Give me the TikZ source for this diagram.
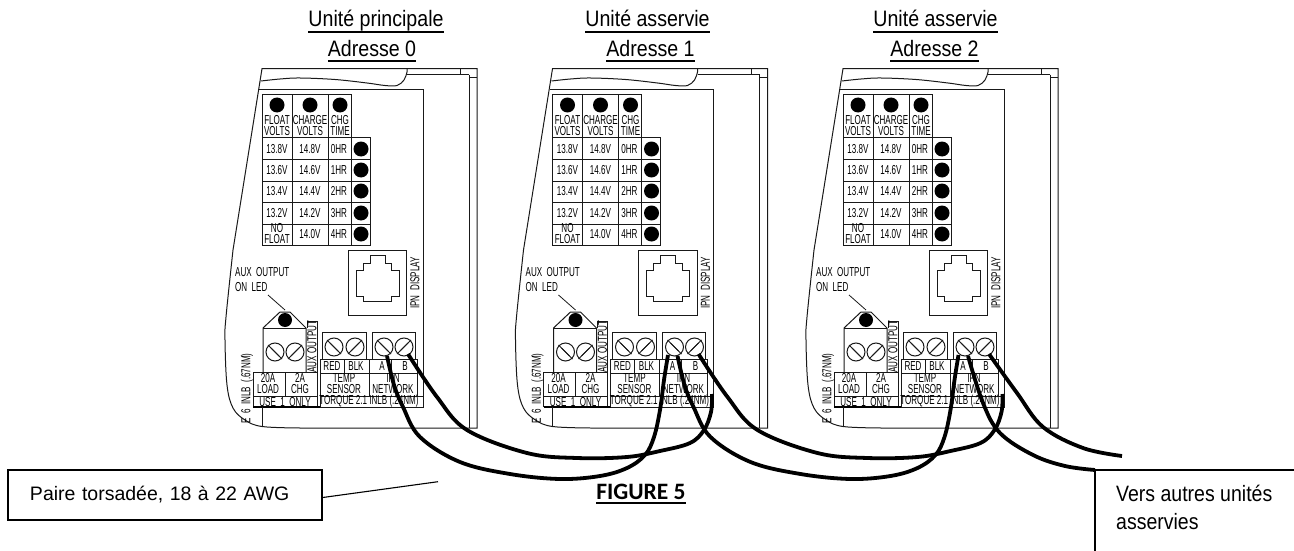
\documentclass[tikz,border=0pt]{standalone}
\usepackage{fontspec}
\setmainfont{Liberation Sans}
\newfontfamily\figfont{Carlito}
\newcommand{\ultext}[1]{\setbox0=\hbox{#1}\rlap{\rule[-5.5pt]{\wd0}{1.6pt}}\box0}
\newcommand{\screwhead}[4]{% x, y, slant sign, name
  \node[screw] (#4) at (#1,#2) {};
  \draw[thin line] (#1-5.5*#3-1.5,#2+5.5+1.5*#3) -- (#1+5.5*#3-1.5,#2-5.5+1.5*#3);
  \draw[thin line] (#1-5.5*#3+1.5,#2+5.5-1.5*#3) -- (#1+5.5*#3+1.5,#2-5.5-1.5*#3);
}
\tikzset{
  panel/.style={line width=1pt,black!90},
  thin line/.style={line width=.8pt,black!90},
  screw/.style={circle,draw=black!90,line width=1pt,minimum size=18pt,inner sep=0pt},
  cad/.style={font=\fontsize{13}{13}\selectfont,xscale=.62,inner sep=0pt,text=black},
  cadv/.style={font=\fontsize{13}{13}\selectfont,rotate=90,xscale=.62,inner sep=0pt,text=black},
  title/.style={font=\fontsize{19.6}{20}\selectfont,anchor=base,inner sep=0pt,yscale=1.14},
  note/.style={font=\fontsize{19.5}{20}\selectfont,inner sep=0pt,anchor=base west,yscale=1.14},
  notebox/.style={draw,line width=1.5pt},
  wire/.style={line width=3.8pt,black,line cap=butt},
  led/.style={circle,fill=black,inner sep=0pt,minimum size=15pt}
}
\begin{document}
\begin{tikzpicture}[x=1pt,y=-1pt]
  \useasboundingbox (0,0) rectangle (1294,551);

  \node[title] (titleA) at (376,27) {\ultext{Unité principale}};
  \node[title] (addrA) at (372,56) {\ultext{Adresse 0}};
  \node[title] (titleB) at (647.5,27) {\ultext{Unité asservie}};
  \node[title] (addrB) at (650.5,56) {\ultext{Adresse 1}};
  \node[title] (titleC) at (935.5,27) {\ultext{Unité asservie}};
  \node[title] (addrC) at (934.5,56) {\ultext{Adresse 2}};

  \foreach \ux/\un in {0/0,290.5/1,581/2}{
  \begin{scope}[shift={(\ux,0)}]
    % housing
    \draw[panel] (233,250) -- (262,68.7) -- (477,68.7) -- (477,428) -- (300,428);
    \draw[panel] plot[smooth,tension=.6] coordinates {(300,428) (262,426.5) (245,420) (233,408) (227,385) (225,340) (226,317) (233,250)};
    \draw[panel] plot[smooth,tension=.6] coordinates {(261,81) (280,79) (300,78) (335,79.5) (367,83) (385,85.5) (397,85.5) (404,80) (407,72) (407,68.7)};
    \draw[panel] (407,74.7) -- (469,74.7);
    \draw[panel] (460.7,68.7) -- (460.7,74.7);
    \draw[panel] (469,74.7) -- (469,428);
    \draw[panel] (469,78) -- (477,78);
    \draw[panel] (259,90) -- (423,90) -- (423,407) -- (320,407);

    % setting table
    \draw[panel] (262,245.5) -- (262,94.7) -- (351,94.7) -- (351,137);
    \draw[panel] (292,94.7) -- (292,245.5);
    \draw[panel] (328,94.7) -- (328,245.5);
    \draw[panel] (351,137) -- (351,245.5);
    \draw[panel] (370,137) -- (370,245.5);
    \foreach \liney in {137,159,181,202,224,245.5}
      \draw[panel] (262,\liney) -- (370,\liney);

    \node[led] (dotfloat\un) at (277,105) {};
    \node[led] (dotcharge\un) at (310,105) {};
    \node[led] (dottime\un) at (340,105) {};
    \node[cad] (floatA\un) at (277,120) {FLOAT};
    \node[cad] (floatB\un) at (277,131) {VOLTS};
    \node[cad] (chargeA\un) at (310,120) {CHARGE};
    \node[cad] (chargeB\un) at (310,131) {VOLTS};
    \node[cad] (timeA\un) at (340,120) {CHG};
    \node[cad] (timeB\un) at (340,131) {TIME};

    \foreach \rowy/\fv/\cv/\ct in {149/13.8V/14.8V/0HR,170/13.6V/14.6V/1HR,191/13.4V/14.4V/2HR,213/13.2V/14.2V/3HR}{
      \node[cad] (f\ct\un) at (277,\rowy) {\fv};
      \node[cad] (c\ct\un) at (310,\rowy) {\cv};
      \node[cad] (t\ct\un) at (339,\rowy) {\ct};
      \node[led] (d\ct\un) at (361,\rowy) {};
    }
    \node[cad] (nofloatA\un) at (277,228.5) {NO};
    \node[cad] (nofloatB\un) at (277,239.5) {FLOAT};
    \node[cad] (c4HR\un) at (310,234) {14.0V};
    \node[cad] (t4HR\un) at (339,234) {4HR};
    \node[led] (d4HR\un) at (361,234) {};

    % display jack
    \draw[panel] (348.3,250.7) rectangle (406.7,315);
    \draw[panel] (356,270.7) -- (356,296.7) -- (363.3,296.7) -- (363.3,301.7) -- (391.7,301.7) -- (391.7,296.7) -- (399.3,296.7) -- (399.3,270.7) -- (391.7,270.7) -- (391.7,263.3) -- (385,263.3) -- (385,255) -- (370,255) -- (370,263.3) -- (363.3,263.3) -- (363.3,270.7) -- cycle;
    \node[cadv] (ipndisplay\un) at (415,283) {IPN\ \ DISPLAY};

    % aux output
    \node[cad,anchor=west] (auxA\un) at (235,272) {AUX\ \ OUTPUT};
    \node[cad,anchor=west] (auxB\un) at (235,287) {ON\ \ LED};
    \coordinate (ledtip\un) at (285,310);
    \draw[thin line] (268,295) -- (ledtip\un);
    \draw[panel] (263,372) -- (263,328) -- (280,312) -- (290,312) -- (306,328) -- (306,372);
    \draw[panel] (263,328) -- (306,328);
    \node[led,minimum size=14pt] (auxled\un) at (285,320) {};
    \screwhead{275}{352}{-1}{loadL\un}
    \screwhead{295}{352}{1}{loadR\un}
    \draw[panel] (307,328) -- (307,321) -- (317,321) -- (317,372);
    \node[cadv] (auxout\un) at (312,346.5) {AUX\ OUTPUT};

    \draw[panel] (253,407) -- (253,372) -- (317,372) -- (317,407);
    \draw[panel] (253,396) -- (317,396);
    \draw[panel] (285,372) -- (285,396);
    \draw[line width=1.8pt] (253,407) -- (320,407);
    \draw[panel] (262,407) -- (262,427);
    \node[cad] (loadA\un) at (268,378) {20A};
    \node[cad] (loadB\un) at (268,389) {LOAD};
    \node[cad] (chgA\un) at (300,378) {2A};
    \node[cad] (chgB\un) at (300,389) {CHG};
    \node[cad] (useone\un) at (285,402) {USE\ \ 1\ \ ONLY};
    \node[cadv] (torqueA\un) at (247,388.5) {E\ \ 6\ \ INLB\ \ (.67NM)};

    % temp sensor
    \draw[panel] (322,359) -- (322,332) -- (366,332) -- (366,359);
    \screwhead{334}{347}{-1}{tempL\un}
    \screwhead{355}{347}{1}{tempR\un}
    \draw[panel] (320,407) -- (320,359) -- (369,359) -- (369,396);
    \draw[panel] (320,373) -- (369,373);
    \draw[panel] (344,359) -- (344,373);
    \draw[panel] (320,396) -- (423,396);
    \node[cad] (red\un) at (332,366.5) {RED};
    \node[cad] (blk\un) at (356,366.5) {BLK};
    \node[cad] (tempA\un) at (344,378) {TEMP};
    \node[cad] (tempB\un) at (344,389) {SENSOR};
    \node[cad] (torqueB\un) at (369,401.5) {TORQUE\ 2.1\ INLB\ (.24NM)};

    % network
    \draw[panel] (372,359) -- (372,332) -- (415,332) -- (415,359);
    \screwhead{384}{347}{-1}{netA\un}
    \screwhead{404}{347}{1}{netB\un}
    \draw[panel] (369,359) -- (417,359) -- (417,396);
    \draw[panel] (369,373) -- (417,373);
    \draw[panel] (391,359) -- (391,373);
    \node[cad] (portlabelA\un) at (382,366.5) {A};
    \node[cad] (portlabelB\un) at (405,366.5) {B};
    \node[cad] (ipn\un) at (393,378) {IPN};
    \node[cad] (network\un) at (393,389) {NETWORK};

    \coordinate (ain\un) at (377.5,355);
    \coordinate (aout\un) at (387,356);
    \coordinate (bout\un) at (408,354);
  \end{scope}
  }

  % wires between units
  \foreach \ux/\un/\nx in {0/0/1,290.5/1/2}{
  \begin{scope}[shift={(\ux,0)}]
    \draw[wire] plot[smooth,tension=.6] coordinates {(aout\un) (394,385) (403,407) (420,437) (460,462) (510,474) (560,479) (600,476) (627,468) (645,455) (654,437) (660,410) (664,380) (ain\nx)};
    \draw[wire] plot[smooth,tension=.6] coordinates {(bout\un) (437,397) (467,430) (527,453) (577,458) (627,457) (660,451) (690,443) (704,430) (711,412) (712,394)};
  \end{scope}
  }

  \node[notebox,minimum height=50pt,text width=270pt,inner xsep=22pt,inner ysep=0pt,font=\fontsize{19.5}{20}\selectfont,align=left] (pairbox) at (165,495) {Paire torsadée, 18 à 22 AWG};
  \coordinate (pairend) at (438,481.7);
  \draw[line width=1.1pt] ([yshift=-2.5pt]pairbox.east) -- (pairend);

  \node[font=\figfont\bfseries\fontsize{23.5}{24}\selectfont,anchor=base,inner sep=0pt] (figlabel) at (641,499) {FIGURE 5};
  \node[fill=black,minimum width=90pt,minimum height=2pt,inner sep=0pt] (figrule) at (641,503) {};

  \coordinate (boxcorner) at (1095,470);
  \coordinate (boxright) at (1294,470);
  \coordinate (boxbottom) at (1095,551);
  \draw[notebox] (boxright) -- (boxcorner) -- (boxbottom);
  \node[note] (versA) at (1116,501) {Vers autres unités};
  \node[note] (versB) at (1116,529) {asservies};

  \coordinate (wireendA) at (1122,456);
  \draw[wire] plot[smooth,tension=.6] coordinates {(aout2) (983,403) (1000,433) (1033,455) (1065,466) (boxcorner)};
  \draw[wire] plot[smooth,tension=.6] coordinates {(bout2) (1017,393) (1043,427) (1083,448) (wireendA)};
\end{tikzpicture}
\end{document}
